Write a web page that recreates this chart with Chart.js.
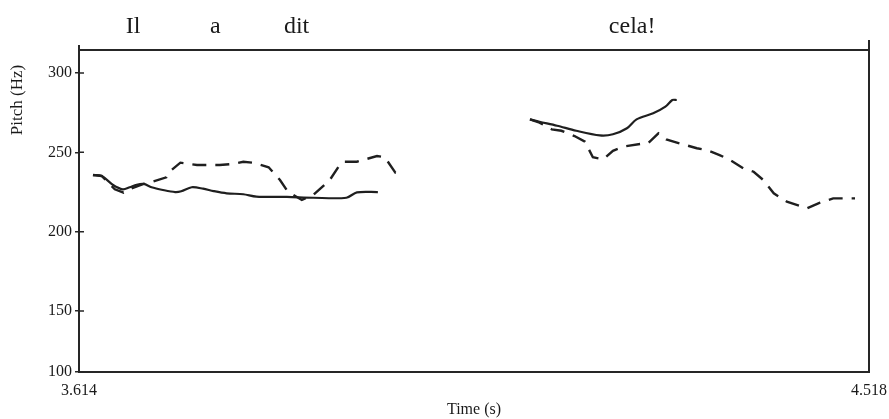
<!DOCTYPE html>
<html>
<head>
<meta charset="utf-8">
<script src="https://cdn.jsdelivr.net/npm/chart.js@4/dist/chart.umd.min.js"></script>
<style>
  html, body { margin: 0; padding: 0; background: #fff; }
  #wrap { width: 889px; height: 419px; }
</style>
</head>
<body>
<div id="wrap"><canvas id="pitch"></canvas></div>
<script>
// ===== Data =====
const timeRange = [3.614, 4.518];        // x axis ends (s)
const pitchRange = [111.6, 314.5];       // y axis extent (Hz); bottom is labelled "100"
const pitchTicks = [150, 200, 250, 300];
const pitchFloorLabel = '100';

// words of the utterance, with the time they sit over
const words = ['Il', 'a', 'dit', 'cela!'];
const wordTimes = [3.676, 3.770, 3.863, 4.247];

// solid contour
const solidTime1 = [3.630, 3.640, 3.653, 3.664, 3.672, 3.680, 3.688, 3.697, 3.710, 3.724, 3.731,
  3.743, 3.756, 3.768, 3.783, 3.802, 3.817, 3.852, 3.882, 3.920, 3.932, 3.956];
const solidHz1 = [235.7, 235.1, 229.4, 226.7, 228.0, 229.6, 230.1, 228.0, 226.3, 225.0, 225.5,
  228.0, 227.1, 225.6, 224.2, 223.6, 222.1, 221.9, 221.4, 221.4, 224.8, 225.0];
const solidTime2 = [4.130, 4.141, 4.161, 4.183, 4.210, 4.225, 4.241, 4.252, 4.271, 4.285, 4.293, 4.298];
const solidHz2 = [270.8, 269.3, 266.8, 263.6, 260.7, 261.4, 265.2, 270.8, 274.6, 278.8, 283.0, 283.0];

// dashed contour
const dashedTime1 = [3.630, 3.640, 3.655, 3.665, 3.674, 3.688, 3.699, 3.714, 3.720, 3.730, 3.749,
  3.775, 3.791, 3.802, 3.813, 3.831, 3.844, 3.853, 3.869, 3.882, 3.901, 3.911, 3.916, 3.932,
  3.955, 3.964, 3.976, 3.981];
const dashedHz1 = [235.7, 235.1, 226.7, 224.6, 227.3, 230.1, 231.6, 234.3, 238.9, 243.5, 242.0,
  242.0, 242.7, 244.1, 243.5, 240.6, 232.6, 225.2, 220.0, 223.1, 232.6, 241.0, 244.1, 244.1,
  247.7, 246.9, 237.2, 237.0];
const dashedTime2 = [4.130, 4.141, 4.155, 4.166, 4.181, 4.193, 4.202, 4.214, 4.225, 4.237, 4.256,
  4.265, 4.277, 4.286, 4.301, 4.321, 4.332, 4.347, 4.359, 4.374, 4.386, 4.397, 4.409, 4.424,
  4.447, 4.462, 4.477, 4.502];
const dashedHz2 = [270.8, 268.7, 264.5, 263.6, 260.3, 256.7, 246.9, 245.6, 251.0, 253.6, 255.3,
  255.7, 262.0, 258.2, 255.7, 252.6, 251.5, 248.3, 245.2, 240.0, 237.8, 232.6, 224.2, 218.9,
  214.7, 218.3, 221.0, 221.0];

// ===== Helpers =====
const FONT = '"Liberation Serif", "Times New Roman", serif';
const INK = '#262626';

const toPoints = (times, hz) => times.map((t, i) => ({ x: t, y: hz[i] }));
// two voiced stretches joined by a null point so the line breaks
const joinSegments = (a, b) => [...a, { x: (a[a.length - 1].x + b[0].x) / 2, y: null }, ...b];

const solidData = joinSegments(toPoints(solidTime1, solidHz1), toPoints(solidTime2, solidHz2));
const dashedData = joinSegments(toPoints(dashedTime1, dashedHz1), toPoints(dashedTime2, dashedHz2));

// frame, inner tick marks, words above the plot, vertical axis title
const framePlugin = {
  id: 'frame',
  afterDraw(chart) {
    const { ctx, chartArea: a, scales } = chart;
    ctx.save();
    ctx.strokeStyle = INK;
    ctx.lineWidth = 2;
    ctx.beginPath();
    ctx.moveTo(a.left, a.top - 5); ctx.lineTo(a.left, a.top);
    ctx.moveTo(a.left, a.top); ctx.lineTo(a.right, a.top);
    ctx.moveTo(a.right, a.top - 10); ctx.lineTo(a.right, a.bottom);
    ctx.stroke();

    ctx.lineWidth = 1.5;
    ctx.beginPath();
    scales.y.ticks.forEach(t => {
      const py = scales.y.getPixelForValue(t.value);
      ctx.moveTo(a.left, py); ctx.lineTo(a.left + 5, py);
    });
    ctx.stroke();

    ctx.fillStyle = '#1a1a1a';
    ctx.textAlign = 'center';
    ctx.textBaseline = 'alphabetic';
    ctx.font = '24px ' + FONT;
    words.forEach((w, i) => ctx.fillText(w, scales.x.getPixelForValue(wordTimes[i]), 33));

    ctx.textBaseline = 'middle';
    ctx.font = '17px ' + FONT;
    ctx.translate(18, 100);
    ctx.rotate(-Math.PI / 2);
    ctx.fillText('Pitch (Hz)', 0, 0);
    ctx.restore();
  }
};

new Chart(document.getElementById('pitch'), {
  type: 'line',
  data: {
    datasets: [
      {
        label: 'solid',
        data: solidData,
        borderColor: '#1f1f1f',
        borderWidth: 2.2,
        pointRadius: 0,
        tension: 0.3,
        spanGaps: false
      },
      {
        label: 'dashed',
        data: dashedData,
        borderColor: '#1f1f1f',
        borderWidth: 2.4,
        borderDash: [14, 9],
        pointRadius: 0,
        tension: 0,
        spanGaps: false
      }
    ]
  },
  options: {
    responsive: true,
    maintainAspectRatio: false,
    animation: false,
    layout: { padding: { top: 50, right: 20, left: 0, bottom: 0 } },
    plugins: { legend: { display: false }, tooltip: { enabled: false } },
    scales: {
      x: {
        type: 'linear',
        min: timeRange[0],
        max: timeRange[1],
        afterBuildTicks: s => { s.ticks = timeRange.map(v => ({ value: v })); },
        afterFit: s => {
          s.height = 47;
          // let the end labels overhang instead of shrinking the plot
          s.paddingLeft = 0;
          s.paddingRight = 0;
        },
        grid: { display: false, drawTicks: false },
        border: { display: true, color: INK, width: 2 },
        ticks: {
          color: '#1a1a1a',
          font: { family: FONT, size: 16 },
          padding: 9,
          maxRotation: 0,
          autoSkip: false,
          callback: v => Number(v).toFixed(3)
        },
        title: {
          display: true,
          text: 'Time (s)',
          color: '#1a1a1a',
          font: { family: FONT, size: 16 },
          padding: { top: 0, bottom: 0 }
        }
      },
      y: {
        min: pitchRange[0],
        max: pitchRange[1],
        afterBuildTicks: s => {
          s.ticks = [pitchRange[0], ...pitchTicks].map(v => ({ value: v }));
        },
        afterFit: s => {
          s.width = 79;
          s.paddingTop = 0;
          s.paddingBottom = 0;
        },
        grid: { drawOnChartArea: false, tickLength: 4, color: INK, lineWidth: 1.5 },
        border: { display: true, color: INK, width: 2 },
        ticks: {
          color: '#1a1a1a',
          font: { family: FONT, size: 16 },
          padding: 3,
          autoSkip: false,
          callback: v => (v === pitchRange[0] ? pitchFloorLabel : v)
        },
        title: { display: false }
      }
    }
  },
  plugins: [framePlugin]
});
</script>
</body>
</html>
